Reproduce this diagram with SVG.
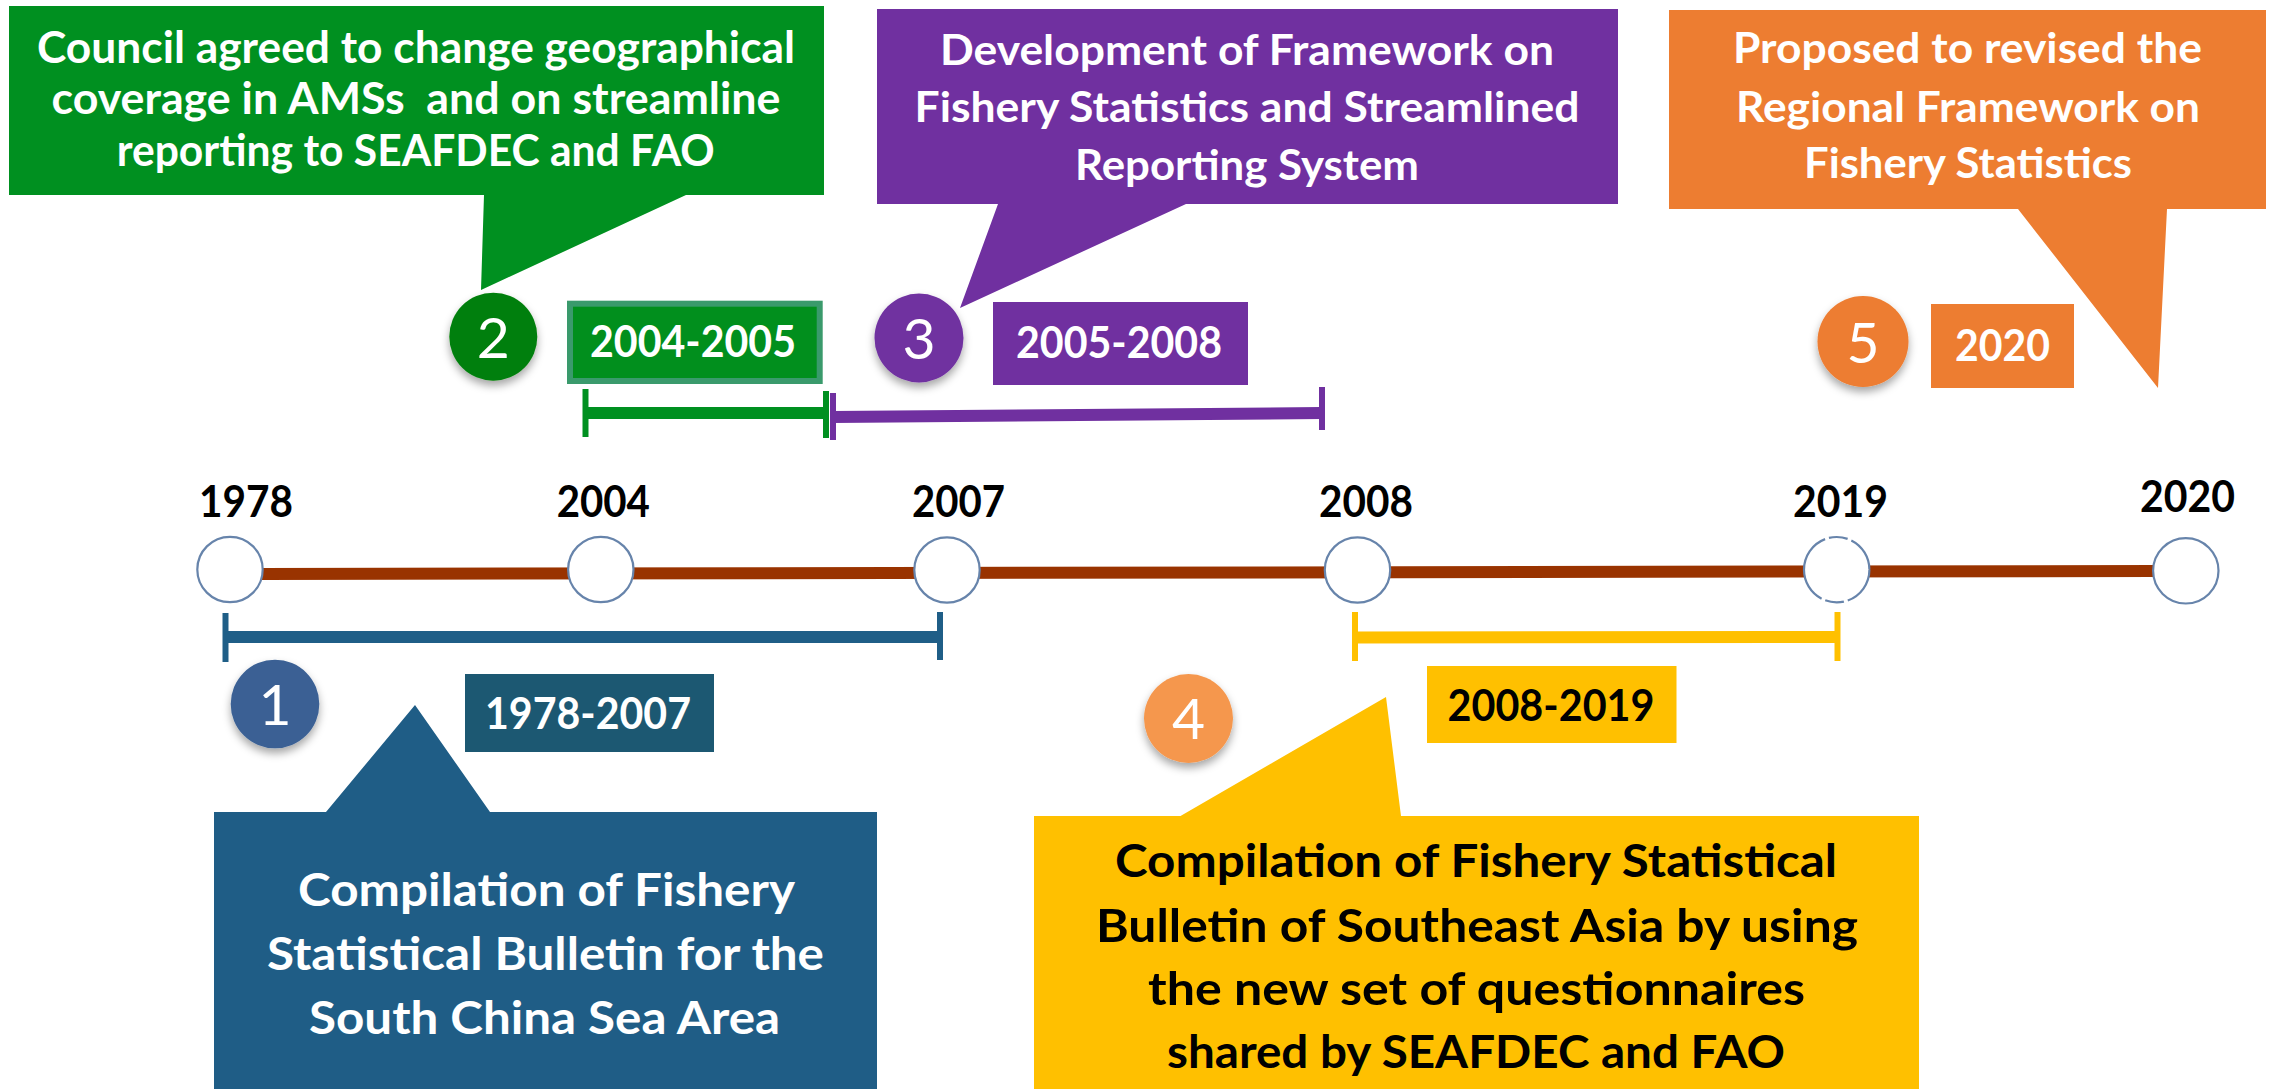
<svg xmlns="http://www.w3.org/2000/svg" width="2275" height="1089" viewBox="0 0 2275 1089">
<defs>
<filter id="sh" x="-40%" y="-40%" width="180%" height="190%">
<feDropShadow dx="0" dy="5" stdDeviation="4" flood-color="#000" flood-opacity="0.35"/>
</filter>
<style>
.t{font-family:Lato,"Liberation Sans",sans-serif;font-weight:700;text-anchor:middle}
.w{fill:#fff}
.k{fill:#000}
.num{font-family:Lato,"Liberation Sans",sans-serif;font-weight:400;font-size:57px;fill:#fff;text-anchor:middle}
.yr{font-size:44px}
.rg{font-size:44px}
.node{fill:#fff;stroke:#6784ab;stroke-width:2.2}
.tick{stroke-width:6;fill:none}
.span{stroke-width:12;fill:none}
</style>
</defs>
<rect x="0" y="0" width="2275" height="1089" fill="#fff"/>

<g id="connectors">
<line x1="262" y1="574" x2="2154" y2="571" stroke="#993300" stroke-width="12"/>
<g stroke="#1f5e87">
<line class="tick" x1="225.5" y1="613" x2="225.5" y2="662"/>
<line class="span" x1="225.5" y1="637" x2="940" y2="637"/>
<line class="tick" x1="940" y1="612" x2="940" y2="660"/>
</g>
<g stroke="#ffc000">
<line class="tick" x1="1355" y1="612" x2="1355" y2="661"/>
<line class="span" x1="1355" y1="637.5" x2="1837.5" y2="637"/>
<line class="tick" x1="1837.5" y1="612" x2="1837.5" y2="661"/>
</g>
<g stroke="#009020">
<line class="tick" x1="585.5" y1="389" x2="585.5" y2="437"/>
<line class="span" x1="585.5" y1="413" x2="826" y2="413"/>
<line class="tick" x1="826" y1="391" x2="826" y2="438"/>
</g>
<g stroke="#7030a0">
<line class="tick" x1="833" y1="393" x2="833" y2="440"/>
<line class="span" x1="833" y1="417" x2="1322" y2="413"/>
<line class="tick" x1="1322" y1="387" x2="1322" y2="430"/>
</g>
</g>

<g id="year-1978">
<circle class="node" cx="230" cy="569.5" r="32.7"/>
<text class="t k yr" x="246" y="516.7" textLength="94" lengthAdjust="spacingAndGlyphs">1978</text>
</g>
<g id="year-2004">
<circle class="node" cx="600.8" cy="569.5" r="32.7"/>
<text class="t k yr" x="603.3" y="516.7" textLength="93.3" lengthAdjust="spacingAndGlyphs">2004</text>
</g>
<g id="year-2007">
<circle class="node" cx="947" cy="570" r="32.7"/>
<text class="t k yr" x="958.5" y="516.5" textLength="93" lengthAdjust="spacingAndGlyphs">2007</text>
</g>
<g id="year-2008">
<circle class="node" cx="1357.5" cy="570" r="32.7"/>
<text class="t k yr" x="1366" y="516.5" textLength="94" lengthAdjust="spacingAndGlyphs">2008</text>
</g>
<g id="year-2019">
<circle class="node" cx="1836.7" cy="569.7" r="32.7" stroke-dasharray="40 4 19 4 75 4 19 4 36"/>
<text class="t k yr" x="1840.5" y="516.7" textLength="95" lengthAdjust="spacingAndGlyphs">2019</text>
</g>
<g id="year-2020">
<circle class="node" cx="2185.8" cy="570.8" r="32.7"/>
<text class="t k yr" x="2187.5" y="511.7" textLength="95" lengthAdjust="spacingAndGlyphs">2020</text>
</g>

<g id="callout-2">
<path d="M9,6 H824 V195 H686 L481,290 L484,195 H9 Z" fill="#009020"/>
<text class="t w" x="416" y="63" font-size="43" textLength="758" lengthAdjust="spacingAndGlyphs">Council agreed to change geographical</text>
<text class="t w" x="416" y="114" font-size="43" textLength="729" lengthAdjust="spacingAndGlyphs" xml:space="preserve">coverage in AMSs  and on streamline</text>
<text class="t w" x="415.7" y="165.7" font-size="43" textLength="598" lengthAdjust="spacingAndGlyphs">reporting to SEAFDEC and FAO</text>
</g>
<g id="badge-2">
<circle cx="493.3" cy="336.7" r="44" fill="#007f0a" filter="url(#sh)"/>
<text class="num" x="493.3" y="358.3">2</text>
</g>
<g id="range-2">
<rect x="570" y="303.7" width="249.7" height="77.3" fill="#018f1d" stroke="#3a9a6c" stroke-width="6"/>
<text class="t w rg" x="693" y="357.3" textLength="206" lengthAdjust="spacingAndGlyphs">2004-2005</text>
</g>

<g id="callout-3">
<path d="M877,9 H1618 V204 H1186 L960,308 L998,204 H877 Z" fill="#7030a0"/>
<text class="t w" x="1247" y="65" font-size="42" textLength="614" lengthAdjust="spacingAndGlyphs">Development of Framework on</text>
<text class="t w" x="1247" y="121.7" font-size="42" textLength="665" lengthAdjust="spacingAndGlyphs">Fishery Statistics and Streamlined</text>
<text class="t w" x="1247" y="180" font-size="42" textLength="344" lengthAdjust="spacingAndGlyphs">Reporting System</text>
</g>
<g id="badge-3">
<circle cx="919" cy="338" r="44.5" fill="#7030a0" filter="url(#sh)"/>
<text class="num" x="919" y="358.5">3</text>
</g>
<g id="range-3">
<rect x="993" y="302" width="255" height="83" fill="#7030a0"/>
<text class="t w rg" x="1119" y="358" textLength="206" lengthAdjust="spacingAndGlyphs">2005-2008</text>
</g>

<g id="callout-5">
<path d="M1669,10 H2266 V209 H2167 L2158,388 L2018,209 H1669 Z" fill="#ed7d31"/>
<text class="t w" x="1967.5" y="63.3" font-size="42" textLength="469" lengthAdjust="spacingAndGlyphs">Proposed to revised the</text>
<text class="t w" x="1968" y="121.7" font-size="42" textLength="464" lengthAdjust="spacingAndGlyphs">Regional Framework on</text>
<text class="t w" x="1968" y="178.3" font-size="42" textLength="328" lengthAdjust="spacingAndGlyphs">Fishery Statistics</text>
</g>
<g id="badge-5">
<circle cx="1863" cy="341.5" r="45.5" fill="#ed7d31" filter="url(#sh)"/>
<text class="num" x="1863" y="363">5</text>
</g>
<g id="range-5">
<rect x="1931" y="304" width="143" height="84" fill="#ed7d31"/>
<text class="t w rg" x="2002.5" y="361" textLength="95" lengthAdjust="spacingAndGlyphs">2020</text>
</g>

<g id="callout-1">
<path d="M214,1089 V812 H326 L415,705 L490,812 H877 V1089 Z" fill="#1f5d86"/>
<text class="t w" x="546.5" y="906" font-size="46.5" textLength="497" lengthAdjust="spacingAndGlyphs">Compilation of Fishery</text>
<text class="t w" x="545.5" y="970" font-size="46.5" textLength="557" lengthAdjust="spacingAndGlyphs">Statistical Bulletin for the</text>
<text class="t w" x="544.5" y="1034" font-size="46.5" textLength="471" lengthAdjust="spacingAndGlyphs">South China Sea Area</text>
</g>
<g id="badge-1">
<circle cx="275" cy="704" r="44.3" fill="#3a6094" filter="url(#sh)"/>
<text class="num" x="275" y="725">1</text>
</g>
<g id="range-1">
<rect x="465" y="674" width="249" height="78" fill="#1c5872"/>
<text class="t w rg" x="588" y="729.3" textLength="206" lengthAdjust="spacingAndGlyphs">1978-2007</text>
</g>

<g id="callout-4">
<path d="M1034,1089 V816 H1180.5 L1386,697 L1401,816 H1919 V1089 Z" fill="#ffc000"/>
<text class="t k" x="1476" y="876.7" font-size="46.5" textLength="722" lengthAdjust="spacingAndGlyphs">Compilation of Fishery Statistical</text>
<text class="t k" x="1477" y="941.7" font-size="46.5" textLength="762" lengthAdjust="spacingAndGlyphs">Bulletin of Southeast Asia by using</text>
<text class="t k" x="1476.5" y="1005" font-size="46.5" textLength="657" lengthAdjust="spacingAndGlyphs">the new set of questionnaires</text>
<text class="t k" x="1476" y="1068" font-size="46.5" textLength="618" lengthAdjust="spacingAndGlyphs">shared by SEAFDEC and FAO</text>
</g>
<g id="badge-4">
<circle cx="1188.5" cy="718.5" r="44.5" fill="#f5974d" filter="url(#sh)"/>
<text class="num" x="1188.5" y="739">4</text>
</g>
<g id="range-4">
<rect x="1427" y="666" width="249.5" height="77" fill="#ffc000"/>
<text class="t k rg" x="1551" y="721" textLength="207" lengthAdjust="spacingAndGlyphs">2008-2019</text>
</g>
</svg>
